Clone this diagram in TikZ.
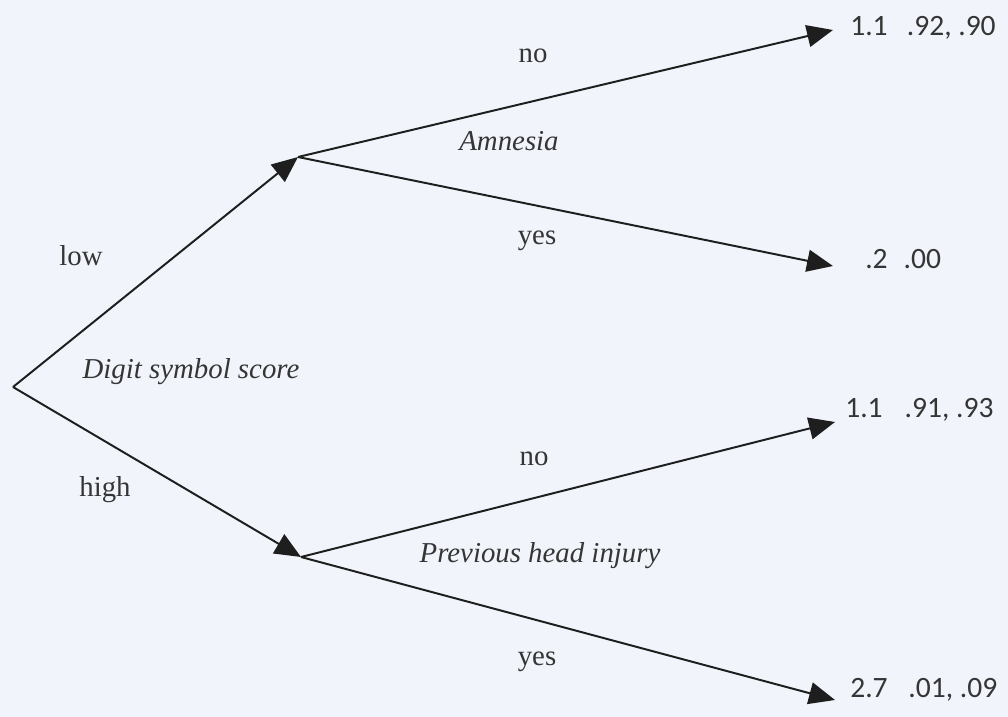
\documentclass[tikz,border=0pt]{standalone}
\usepackage{fontspec}
\setmainfont{Liberation Serif}
\newfontfamily\valfont{Carlito}
\usetikzlibrary{arrows.meta, positioning}
\definecolor{paper}{HTML}{F1F5FB}
\definecolor{ink}{HTML}{1E1E1E}

\begin{document}
\begin{tikzpicture}[
        x=0.025cm, y=-0.025cm,
        % Define styles
        branch/.style={draw=ink, line width=1.4pt, -{Triangle[length=0.65cm, width=0.55cm]}},
        lab/.style={text=ink!90, font=\fontsize{20.5}{24}\selectfont, inner sep=0pt},
        var/.style={text=ink!90, font=\fontsize{20.5}{24}\selectfont\itshape, inner sep=0pt},
        leaf/.style={text=ink!90, font=\valfont\fontsize{21}{24}\selectfont, anchor=base west, inner sep=0pt}
    ]

    % background and size
    \fill[paper] (0,0) rectangle (1008,717);
    \useasboundingbox (0,0) rectangle (1008,717);

    % 1. Split points
    \coordinate (root) at (13,387);
    \coordinate (amn) at (298,157);
    \coordinate (phi) at (301,557);

    % 2. Ends of the branches
    \coordinate (t1) at (833,30);
    \coordinate (t2) at (833,266);
    \coordinate (t3) at (835,422);
    \coordinate (t4) at (835,700);

    % First split
    \draw[branch] (root) -- (amn);
    \draw[branch] (root) -- (phi);
    \node[lab] (low) at (81,256) {low};
    \node[lab] (high) at (105,490) {high};
    \node[var] (dss) at (191,372) {Digit symbol score};

    % Amnesia
    \draw[branch] (amn) -- (t1);
    \draw[branch] (amn) -- (t2);
    \node[lab] (no1) at (533,56) {no};
    \node[var] (amnesia) at (509,141) {Amnesia};
    \node[lab] (yes1) at (537,241) {yes};

    % Previous head injury
    \draw[branch] (phi) -- (t3);
    \draw[branch] (phi) -- (t4);
    \node[lab] (no2) at (534,459) {no};
    \node[var] (injury) at (540,556) {Previous head injury};
    \node[lab] (yes2) at (537,662) {yes};

    % 3. Values at the ends
    \node[leaf] (v1) at (850,35) {1.1\hspace{0.48cm}.92, .90};
    \node[leaf] (v2) at (865,268) {.2\hspace{0.4cm}.00};
    \node[leaf] (v3) at (845,417) {1.1\hspace{0.55cm}.91, .93};
    \node[leaf] (v4) at (850,697) {2.7\hspace{0.52cm}.01, .09};

\end{tikzpicture}
\end{document}
